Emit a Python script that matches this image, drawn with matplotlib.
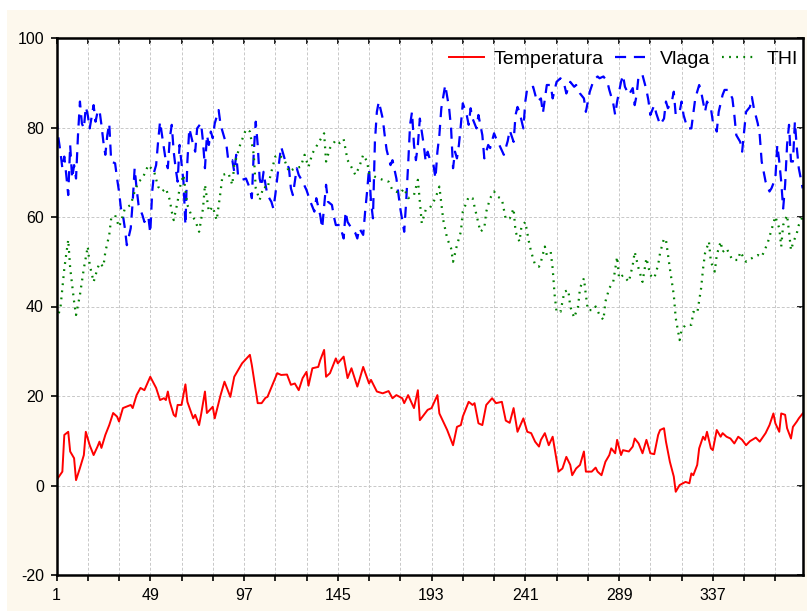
import matplotlib.pyplot as plt
from matplotlib.patches import Rectangle

# dnevne vrednosti: (dan, vrednost)
temperatura = [
    (1, 1.2), (4, 3.1), (5, 11.3), (7, 12.0), (8, 7.6), (10, 6.1), (11, 1.2), (13, 3.9),
    (15, 6.8), (16, 12.0), (18, 9.0), (20, 6.8), (22, 8.7), (23, 9.8), (24, 8.4), (26, 11.3),
    (28, 13.5), (30, 16.2), (32, 15.4), (33, 14.3), (35, 17.3), (39, 18.0), (40, 17.3), (42, 20.2),
    (44, 21.8), (46, 21.3), (49, 24.3), (52, 21.8), (54, 19.1), (56, 19.5), (57, 19.1), (58, 21.0),
    (59, 18.7), (61, 15.8), (62, 15.4), (63, 18.0), (65, 18.0), (67, 22.6), (68, 18.7), (71, 15.0),
    (72, 15.8), (74, 13.5), (75, 15.8), (77, 21.0), (78, 16.2), (81, 17.6), (82, 15.0), (85, 20.2),
    (87, 23.2), (90, 19.8), (92, 24.3), (96, 27.3), (100, 29.2), (101, 26.9), (104, 18.4), (106, 18.4),
    (108, 19.6), (109, 19.8), (114, 25.1), (116, 24.7), (119, 24.8), (121, 22.5), (123, 22.8), (125, 21.3),
    (127, 24.0), (129, 25.4), (130, 22.3), (132, 26.2), (135, 26.5), (136, 28.0), (138, 30.3), (139, 24.3),
    (141, 25.1), (144, 28.4), (145, 27.3), (148, 28.8), (150, 24.0), (152, 26.2), (155, 22.1), (156, 23.5),
    (158, 26.5), (161, 22.8), (162, 23.6), (165, 21.0), (168, 20.6), (171, 21.1), (173, 19.5), (175, 20.2),
    (178, 19.5), (179, 18.4), (181, 20.2), (184, 17.3), (186, 21.3), (187, 14.6), (191, 16.9), (193, 17.3),
    (196, 20.2), (197, 16.1), (201, 12.4), (204, 9.0), (206, 13.1), (208, 13.5), (209, 15.4), (212, 18.7),
    (214, 18.0), (215, 18.4), (217, 13.9), (219, 13.5), (221, 18.0), (224, 19.5), (226, 18.4), (229, 18.7),
    (231, 14.5), (233, 14.0), (235, 17.3), (237, 12.0), (240, 15.0), (242, 12.0), (244, 11.7), (246, 9.8),
    (248, 8.7), (249, 10.2), (251, 11.7), (253, 9.0), (255, 10.9), (256, 8.3), (258, 3.1), (260, 3.8),
    (262, 6.4), (264, 4.6), (265, 2.3), (267, 3.8), (269, 4.6), (271, 7.6), (272, 3.1), (275, 3.1),
    (277, 4.0), (278, 3.1), (280, 2.3), (282, 5.3), (284, 6.8), (285, 8.3), (287, 7.2), (288, 10.2),
    (290, 6.8), (291, 7.9), (294, 7.6), (296, 8.7), (297, 10.5), (299, 9.4), (301, 7.2), (303, 10.2),
    (305, 7.2), (307, 7.0), (309, 11.3), (310, 12.4), (312, 12.8), (313, 9.8), (315, 5.3), (317, 2.0),
    (318, -1.4), (320, 0.1), (323, 0.8), (325, 0.5), (326, 2.7), (327, 2.3), (329, 4.6), (330, 8.3),
    (332, 10.9), (333, 10.2), (334, 12.0), (336, 8.3), (337, 7.9), (339, 12.4), (341, 10.9), (342, 11.7),
    (344, 10.9), (346, 10.5), (348, 9.4), (350, 10.9), (352, 10.2), (354, 9.0), (356, 9.9), (359, 10.7),
    (361, 9.8), (364, 11.7), (366, 13.5), (368, 16.1), (369, 13.9), (371, 12.0), (372, 16.1), (374, 15.8),
    (375, 12.8), (377, 10.5), (378, 13.1), (380, 14.3), (381, 15.0), (383, 16.1),
]

vlaga = [
    (1, 82.0), (2, 77.6), (3, 74.6), (4, 70.9), (5, 73.5), (6, 69.4), (7, 64.9), (8, 76.1),
    (9, 68.6), (10, 71.6), (11, 68.6), (12, 78.3), (13, 85.8), (14, 80.9), (15, 79.8), (16, 84.6),
    (17, 82.8), (18, 79.8), (20, 85.0), (21, 81.3), (22, 83.5), (23, 83.9), (24, 80.6), (25, 76.8),
    (26, 73.9), (27, 78.3), (28, 80.9), (29, 72.4), (31, 72.0), (32, 68.6), (33, 65.7), (34, 61.9),
    (35, 60.4), (36, 57.5), (37, 53.7), (39, 57.5), (40, 63.4), (41, 70.9), (42, 66.4), (43, 62.7),
    (45, 60.4), (46, 58.9), (48, 60.1), (49, 56.4), (50, 65.7), (51, 70.1), (52, 71.6), (53, 76.8),
    (54, 81.3), (55, 78.3), (57, 72.4), (58, 70.9), (59, 77.6), (60, 80.6), (61, 74.6), (62, 70.9),
    (63, 67.9), (64, 76.1), (66, 67.9), (67, 58.2), (68, 72.4), (69, 79.8), (71, 76.1), (72, 74.6),
    (73, 79.8), (75, 81.0), (76, 76.8), (77, 70.9), (78, 78.3), (79, 76.1), (80, 79.1), (81, 77.6),
    (82, 80.9), (84, 83.9), (85, 80.6), (86, 79.1), (88, 76.1), (89, 72.4), (91, 72.7), (92, 70.1),
    (93, 73.9), (94, 69.0), (96, 68.3), (98, 68.6), (100, 66.4), (101, 64.2), (102, 74.6), (103, 81.3),
    (104, 76.1), (105, 68.6), (106, 66.8), (107, 70.1), (108, 67.2), (109, 64.9), (111, 63.4), (112, 61.9),
    (113, 64.9), (115, 72.4), (116, 75.7), (118, 72.7), (120, 70.9), (121, 66.4), (122, 64.9), (124, 70.9),
    (125, 69.4), (127, 67.9), (129, 66.0), (131, 63.4), (133, 61.2), (134, 64.2), (136, 60.4), (137, 57.5),
    (139, 67.2), (140, 63.4), (142, 62.7), (143, 60.1), (144, 58.2), (146, 58.2), (148, 55.2), (149, 61.2),
    (150, 58.9), (152, 57.5), (154, 56.4), (155, 55.2), (156, 57.5), (158, 56.0), (159, 61.2), (160, 65.7),
    (161, 70.9), (162, 63.4), (163, 59.7), (164, 76.8), (165, 83.5), (166, 85.8), (168, 82.0), (169, 78.3),
    (170, 75.0), (172, 71.6), (173, 72.7), (175, 68.6), (177, 61.9), (179, 56.7), (180, 63.4), (181, 71.6),
    (182, 80.6), (183, 83.5), (184, 76.1), (185, 72.7), (186, 76.1), (187, 82.0), (189, 76.1), (190, 72.4),
    (191, 74.6), (192, 73.1), (194, 71.6), (195, 68.6), (196, 74.6), (197, 78.3), (198, 84.3), (200, 89.5),
    (202, 84.3), (203, 79.8), (204, 70.9), (205, 74.6), (206, 73.1), (207, 76.1), (208, 80.6), (209, 85.4),
    (211, 82.8), (212, 80.6), (213, 84.3), (214, 82.0), (216, 79.8), (217, 82.8), (219, 78.3), (220, 73.1),
    (222, 76.1), (223, 75.4), (225, 78.7), (226, 77.6), (228, 75.8), (230, 73.9), (232, 77.0), (233, 79.4),
    (235, 76.8), (236, 82.8), (237, 84.6), (238, 83.5), (240, 79.8), (241, 85.8), (242, 88.8), (244, 88.8),
    (245, 89.1), (247, 85.8), (249, 86.5), (250, 83.2), (252, 89.5), (254, 89.5), (255, 86.5), (257, 90.2),
    (259, 91.0), (261, 89.5), (262, 87.6), (264, 90.2), (266, 89.1), (267, 89.5), (269, 87.6), (271, 86.5),
    (272, 83.5), (274, 88.0), (276, 90.6), (278, 91.4), (279, 91.0), (281, 91.4), (283, 90.2), (284, 88.4),
    (286, 85.4), (287, 82.8), (288, 85.8), (290, 90.2), (291, 91.7), (292, 89.1), (294, 87.3), (296, 88.8),
    (297, 85.0), (298, 87.3), (299, 91.7), (301, 91.7), (303, 88.4), (304, 86.1), (305, 82.8), (307, 85.0),
    (308, 83.2), (310, 80.6), (312, 82.0), (313, 85.8), (314, 84.3), (316, 85.8), (317, 88.0), (318, 82.8),
    (320, 83.5), (321, 85.8), (322, 82.8), (324, 79.8), (326, 79.8), (327, 83.2), (328, 86.5), (330, 89.5),
    (331, 88.0), (332, 85.8), (333, 83.5), (334, 85.8), (336, 84.3), (337, 81.3), (338, 80.6), (339, 79.1),
    (340, 83.5), (342, 87.3), (343, 88.4), (345, 88.4), (347, 86.5), (348, 82.8), (349, 78.3), (351, 76.8),
    (352, 74.6), (353, 79.1), (354, 83.5), (356, 84.6), (357, 86.8), (358, 84.3), (360, 80.9), (361, 78.3),
    (362, 72.4), (364, 67.9), (366, 65.7), (367, 66.4), (369, 68.6), (370, 76.1), (371, 72.4), (372, 67.9),
    (373, 61.9), (374, 67.2), (375, 76.1), (376, 80.6), (377, 72.4), (378, 72.4), (379, 81.3), (380, 75.4),
    (381, 70.9), (383, 66.4),
]

thi = [
    (1, 37.0), (3, 39.6), (5, 48.5), (7, 54.9), (8, 48.6), (10, 41.1), (11, 38.1), (13, 42.6),
    (15, 48.5), (17, 53.4), (18, 49.3), (20, 45.5), (22, 48.5), (23, 49.7), (25, 48.9), (26, 52.2),
    (28, 56.0), (29, 59.7), (31, 60.4), (33, 57.8), (34, 58.9), (36, 61.9), (39, 62.7), (41, 65.7),
    (43, 67.9), (45, 68.6), (48, 71.6), (51, 70.1), (53, 66.8), (55, 65.7), (57, 66.4), (59, 63.8),
    (60, 61.2), (61, 59.3), (63, 63.4), (64, 66.4), (65, 67.9), (66, 69.4), (68, 62.7), (70, 60.4),
    (72, 59.3), (74, 56.7), (76, 61.9), (77, 67.2), (79, 61.2), (81, 62.3), (83, 59.3), (85, 65.7),
    (86, 69.4), (89, 69.8), (91, 67.2), (92, 71.6), (95, 76.1), (98, 79.6), (100, 79.1), (102, 73.9),
    (103, 66.4), (105, 63.8), (107, 66.8), (109, 66.4), (111, 70.1), (113, 73.5), (115, 73.9), (118, 72.4),
    (120, 70.1), (123, 70.9), (126, 71.2), (128, 73.9), (130, 71.2), (132, 74.2), (135, 76.5), (138, 78.7),
    (139, 72.4), (141, 75.4), (144, 77.2), (146, 76.5), (148, 77.4), (150, 72.7), (151, 72.0), (154, 69.4),
    (156, 71.2), (158, 73.9), (160, 72.4), (161, 69.8), (164, 69.0), (168, 68.3), (171, 67.9), (173, 66.0),
    (177, 65.3), (179, 66.4), (181, 64.2), (184, 64.9), (186, 68.3), (188, 58.6), (190, 61.6), (192, 61.9),
    (195, 64.2), (197, 66.8), (199, 59.3), (201, 55.2), (203, 53.0), (204, 50.0), (206, 53.7), (208, 56.7),
    (209, 61.2), (212, 64.5), (214, 64.2), (216, 60.4), (218, 56.7), (220, 57.5), (221, 61.2), (223, 64.2),
    (225, 65.7), (227, 64.5), (229, 64.0), (231, 59.5), (233, 59.7), (235, 61.9), (236, 56.7), (238, 54.5),
    (239, 57.8), (241, 58.9), (243, 54.1), (244, 52.2), (246, 49.3), (248, 48.9), (249, 50.0), (251, 53.4),
    (252, 51.5), (254, 52.2), (255, 48.5), (256, 42.6), (257, 38.8), (259, 38.8), (261, 43.3), (263, 43.7),
    (264, 40.0), (266, 37.5), (268, 40.0), (269, 44.1), (271, 46.3), (272, 42.6), (273, 39.2), (276, 39.2),
    (277, 40.0), (279, 38.1), (281, 37.0), (282, 41.1), (284, 44.1), (286, 45.5), (288, 51.1), (289, 46.3),
    (291, 47.0), (294, 45.5), (296, 49.3), (297, 52.2), (299, 48.5), (301, 45.5), (303, 50.8), (305, 47.0),
    (307, 46.3), (309, 49.3), (310, 52.0), (312, 55.2), (313, 54.9), (315, 48.5), (317, 42.6), (318, 37.4),
    (320, 32.5), (321, 34.7), (323, 35.9), (326, 35.9), (327, 38.8), (329, 38.5), (331, 44.1), (332, 48.5),
    (333, 51.9), (335, 54.5), (336, 50.0), (338, 47.8), (339, 51.5), (341, 54.5), (342, 52.2), (344, 53.0),
    (347, 50.4), (350, 50.4), (351, 52.2), (353, 50.8), (354, 50.0), (357, 50.8), (360, 51.5), (362, 51.1),
    (365, 54.1), (367, 57.1), (369, 60.1), (371, 57.5), (372, 53.4), (373, 58.2), (375, 60.4), (376, 56.7),
    (377, 52.6), (378, 54.1), (380, 56.4), (381, 58.2), (383, 60.1),
]

x_ticks = list(range(1, 384, 16))
x_labels = [str(t) if (t - 1) % 48 == 0 else '' for t in x_ticks]
y_ticks = list(range(-20, 101, 20))

plt.rcParams['font.family'] = ['Liberation Sans', 'DejaVu Sans']
plt.rcParams['axes.unicode_minus'] = False

fig = plt.figure(figsize=(8.07, 6.12), dpi=100, facecolor='white')
# krem podloga oko grafika
fig.patches.append(Rectangle((7 / 807, 1 / 612), 800 / 807, 601 / 612,
                             transform=fig.transFigure, facecolor='#fdf8ed',
                             edgecolor='none', zorder=-1))
ax = fig.add_axes([56.5 / 807, 37 / 612, 746.2 / 807, 537 / 612])
ax.set_facecolor('white')

d, v = zip(*temperatura)
ax.plot(d, v, color='#ff0000', lw=1.4, label='Temperatura')
d, v = zip(*vlaga)
ax.plot(d, v, color='#0000ff', lw=1.6, ls=(0, (5, 3.5)), label='Vlaga')
d, v = zip(*thi)
ax.plot(d, v, color='#008000', lw=1.6, ls=(0, (0.8, 2.4)), label='THI')

ax.set_xlim(1, 383)
ax.set_ylim(-20, 100)
ax.set_xticks(x_ticks)
ax.set_xticklabels(x_labels)
ax.set_yticks(y_ticks)
ax.grid(True, color='#c8c8c8', ls=(0, (3, 2)), lw=0.7)

for s in ax.spines.values():
    s.set_linewidth(1.8)
ax.tick_params(direction='out', length=4, width=1.2, labelsize=11.5, pad=5, colors='black')

# kratke crtice s unutrasnje strane gore i desno
top = ax.secondary_xaxis('top')
top.set_xticks(x_ticks)
top.tick_params(direction='in', length=4, width=1.2, labeltop=False)
right = ax.secondary_yaxis('right')
right.set_yticks(y_ticks)
right.tick_params(direction='in', length=4, width=1.2, labelright=False)

ax.legend(loc='upper right', bbox_to_anchor=(1.004, 0.992), ncol=3, frameon=False,
          fontsize=14, handlelength=1.8, handletextpad=0.5, columnspacing=0.6,
          borderaxespad=0.2, borderpad=0.2)

fig.savefig('out.png', dpi=100, facecolor=fig.get_facecolor())
